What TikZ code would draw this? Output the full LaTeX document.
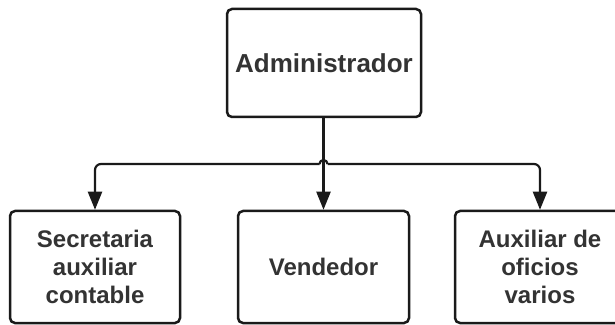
\documentclass[tikz,border=0pt]{standalone}
\usepackage{fontspec}
\setmainfont{Liberation Sans}
\usetikzlibrary{arrows.meta}
\definecolor{txtgray}{HTML}{333333}
\definecolor{linegray}{HTML}{1A1A1A}
\begin{document}
\begin{tikzpicture}[x=1pt, y=1pt,
  box/.style={draw=linegray, line width=2.5pt, rounded corners=5pt, fill=white,
    align=center, text=txtgray, font=\bfseries\fontsize{24}{28}\selectfont,
    inner sep=0pt},
  conn/.style={draw=linegray, line width=2.2pt},
  arr/.style={conn, rounded corners=6pt, -{Triangle[width=14pt,length=18pt]}}]
  \clip (0,0) rectangle (615,324);
  \fill[white] (0,0) rectangle (615,324);

  \node[box, minimum width=194pt, minimum height=108pt,
    font=\bfseries\fontsize{26}{30}\selectfont] (admin) at (324,261) {Administrador};
  \node[box, minimum width=170pt, minimum height=112pt] (sec) at (95,57) {Secretaria\\auxiliar\\contable};
  \node[box, minimum width=171pt, minimum height=112pt] (vend) at (323.5,57) {Vendedor};
  \node[box, minimum width=170pt, minimum height=112pt] (aux) at (540,57) {Auxiliar de\\oficios\\varios};

  \coordinate (bus) at (323.5,160);

  \draw[arr] (admin.south -| vend.north) -- (vend.north);
  \draw[arr] ([xshift=-4pt]bus) -| (sec.north);
  \draw[arr] ([xshift=4pt]bus) -| (aux.north);
  \draw[conn] ([xshift=-4pt]bus) arc[start angle=180, end angle=0, radius=4pt];
\end{tikzpicture}
\end{document}
